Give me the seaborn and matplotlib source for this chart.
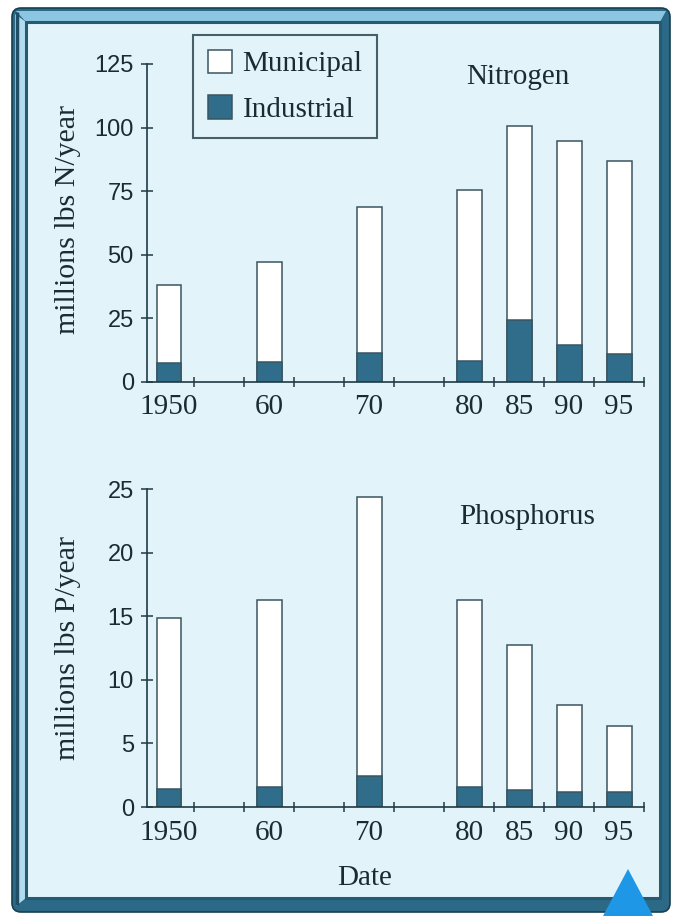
import matplotlib
matplotlib.use("Agg")
import matplotlib.pyplot as plt
import seaborn as sns
import pandas as pd
import numpy as np
from matplotlib.patches import Polygon, Patch, FancyBboxPatch, Rectangle
from matplotlib.transforms import IdentityTransform

# ---------------- data ----------------
years = [1950, 1960, 1970, 1980, 1985, 1990, 1995]
year_labels = ["1950", "60", "70", "80", "85", "90", "95"]

n_industrial = [7.3, 7.7, 11.5, 8.2, 24.5, 14.4, 10.9]
n_municipal = [31.0, 39.3, 57.1, 67.4, 76.0, 80.3, 76.0]

p_industrial = [1.45, 1.6, 2.4, 1.55, 1.3, 1.2, 1.2]
p_municipal = [13.4, 14.65, 22.0, 14.7, 11.4, 6.8, 5.15]

n_ticks = [0, 25, 50, 75, 100, 125]
p_ticks = [0, 5, 10, 15, 20, 25]

series_labels = ["Municipal", "Industrial"]

# ---------------- style ----------------
sns.set_style("ticks")
plt.rcParams["font.family"] = ["Liberation Serif", "DejaVu Serif"]
DARK = "#1f3a44"
TEXT = "#1b2c31"
EDGE = "#3a5560"
IND = "#2f6d8a"
BG = "#e2f3fa"
plt.rcParams["text.color"] = TEXT
plt.rcParams["axes.labelcolor"] = TEXT
plt.rcParams["xtick.color"] = DARK
plt.rcParams["ytick.color"] = DARK

W, H = 679, 916
fig = plt.figure(figsize=(W / 100, H / 100), dpi=100)
fig.patch.set_facecolor("white")
ID = IdentityTransform()


def P(x, y):
    return (x, H - y)


# ---------------- frame ----------------
outer = FancyBboxPatch(P(12, 912), 658, 904, boxstyle="round,pad=0,rounding_size=9",
                       fc="#2b6986", ec="#173f52", lw=1.2, transform=ID, zorder=-10)
fig.patches.append(outer)
top_bev = Polygon([P(16, 11), P(666, 11), P(660, 22), P(26, 22)], closed=True,
                  fc="#8cc6e0", ec="none", transform=ID, zorder=-9)
left_bev = Polygon([P(15, 14), P(26, 22), P(26, 898), P(16, 906)], closed=True,
                   fc="#b3dbee", ec="none", transform=ID, zorder=-9)
fig.patches.extend([top_bev, left_bev])
fig.patches.append(Polygon([P(17, 12), P(17, 905)], closed=False, fill=False,
                           ec="#1e4f66", lw=2.5, transform=ID, zorder=-8))
inner = Rectangle(P(26, 898), 634, 876, fc=BG, ec="#245a72", lw=2.2,
                  transform=ID, zorder=-7)
fig.patches.append(inner)
tri = Polygon([P(628, 869), P(603, 916), P(653, 916)], closed=True,
              fc="#1e98e6", ec="none", transform=ID, zorder=-6)
fig.patches.append(tri)

# ---------------- axes ----------------
def fx(px):
    return px / W


def fy(py):
    return 1 - py / H


AX_L, AX_R = 147, 644
ax1 = fig.add_axes([fx(AX_L), fy(382), (AX_R - AX_L) / W, (382 - 64) / H])
ax2 = fig.add_axes([fx(AX_L), fy(807), (AX_R - AX_L) / W, (807 - 489) / H])


def draw(ax, industrial, municipal, ticks):
    df = pd.DataFrame({"year": years, "Industrial": industrial, "Municipal": municipal})
    df["Total"] = df["Industrial"] + df["Municipal"]
    sns.barplot(data=df, x="year", y="Total", native_scale=True, width=0.5,
                color="white", saturation=1, edgecolor=EDGE, linewidth=1.1,
                errorbar=None, ax=ax)
    sns.barplot(data=df, x="year", y="Industrial", native_scale=True, width=0.5,
                color=IND, saturation=1, edgecolor=EDGE, linewidth=1.1,
                errorbar=None, ax=ax)
    ax.set_facecolor("none")
    ax.set_xlim(1947.8, 1997.5)
    ax.set_ylim(ticks[0], ticks[-1])
    ax.set_yticks(ticks)
    ax.set_yticklabels([str(t) for t in ticks])
    ax.set_xticks(years)
    ax.set_xticklabels(year_labels)
    ax.set_xticks(np.arange(1952.5, 1998, 5), minor=True)
    ax.set_xlabel("")
    ax.set_ylabel("")
    sns.despine(ax=ax)
    for s in ("left", "bottom"):
        ax.spines[s].set_color(DARK)
        ax.spines[s].set_linewidth(1.2)
    ax.tick_params(axis="x", which="major", length=0, pad=9, labelsize=21,
                   labelcolor=TEXT)
    ax.tick_params(axis="x", which="minor", length=6.5, width=1.1,
                   direction="inout", color=DARK)
    ax.tick_params(axis="y", length=9, width=1.1, direction="inout", pad=5,
                   labelsize=17, labelcolor=TEXT)
    for lab in ax.get_yticklabels():
        lab.set_fontfamily(["Liberation Sans", "DejaVu Sans"])


draw(ax1, n_industrial, n_municipal, n_ticks)
draw(ax2, p_industrial, p_municipal, p_ticks)

# ---------------- texts ----------------
fig.text(fx(68), fy(220), "millions lbs N/year", rotation=90, ha="center",
         va="center", fontsize=21.5, color=TEXT)
fig.text(fx(68), fy(648), "millions lbs P/year", rotation=90, ha="center",
         va="center", fontsize=21.5, color=TEXT)
fig.text(fx(518), fy(77), "Nitrogen", ha="center", va="center", fontsize=21,
         color=TEXT)
fig.text(fx(527), fy(517), "Phosphorus", ha="center", va="center", fontsize=21,
         color=TEXT)
fig.text(fx(365), fy(878), "Date", ha="center", va="center", fontsize=21,
         color=TEXT)

# ---------------- legend ----------------
handles = [Patch(fc="white", ec=EDGE, lw=1.1, label=series_labels[0]),
           Patch(fc=IND, ec=EDGE, lw=1.1, label=series_labels[1])]
leg = fig.legend(handles=handles, loc="upper left",
                 bbox_to_anchor=(fx(193), fy(35)), frameon=True, fancybox=False,
                 edgecolor=DARK, facecolor="none", fontsize=21,
                 handlelength=0.85, handleheight=0.85, handletextpad=0.35,
                 labelspacing=0.62, borderpad=0.5, borderaxespad=0)
leg.get_frame().set_linewidth(1.5)
for t in leg.get_texts():
    t.set_color(TEXT)

fig.savefig("out.png", dpi=100)
